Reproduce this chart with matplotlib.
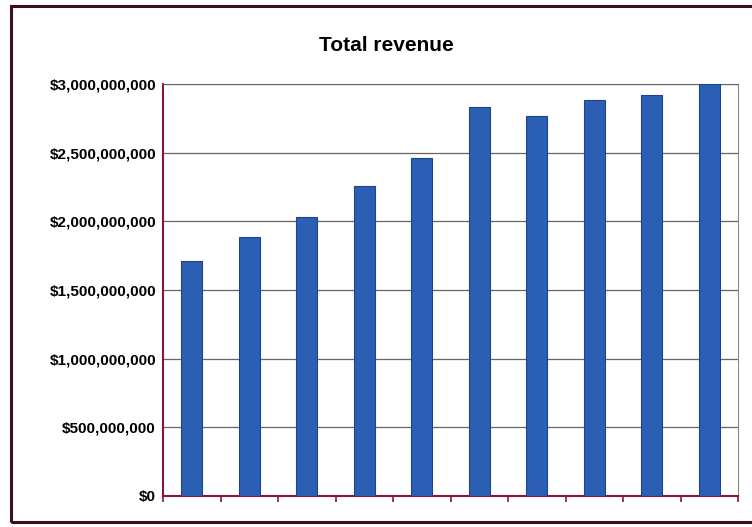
import matplotlib.pyplot as plt
from matplotlib.patches import Rectangle
from matplotlib.ticker import FuncFormatter

# Total revenue by year (10 bars)
years = list(range(1, 11))
revenue = [1.71e9, 1.886e9, 2.032e9, 2.257e9, 2.461e9,
           2.833e9, 2.767e9, 2.883e9, 2.920e9, 3.0e9]

plt.rcParams['font.family'] = ['Liberation Sans', 'DejaVu Sans']

fig = plt.figure(figsize=(7.52, 5.27), dpi=100)
ax = fig.add_axes([163 / 752, 1 - 496 / 527, (738 - 163) / 752, (496 - 84) / 527])

ax.bar(years, revenue, width=0.36, color='#2b5fb4', edgecolor='#1d4391', linewidth=0.8, zorder=3)

ax.set_xlim(0.5, 10.5)
ax.set_ylim(0, 3e9)
ax.set_yticks([i * 5e8 for i in range(7)])
ax.yaxis.set_major_formatter(FuncFormatter(lambda v, p: '${:,.0f}'.format(v)))
for lbl in ax.get_yticklabels():
    lbl.set_fontweight('bold')
    lbl.set_fontsize(11)
ax.tick_params(axis='y', length=0, pad=5)

# ticks between categories on x axis
ax.set_xticks([i + 0.5 for i in range(0, 11)])
ax.set_xticklabels([])
ax.tick_params(axis='x', length=4, width=1.2, color='#8a1538', direction='out')

ax.grid(axis='y', color='#666666', linewidth=0.9, zorder=0)
ax.spines['left'].set_color('#8a1538')
ax.spines['bottom'].set_color('#8a1538')
ax.spines['left'].set_linewidth(1.5)
ax.spines['bottom'].set_linewidth(1.5)
ax.spines['right'].set_color('#888888')
ax.spines['top'].set_color('#666666')

fig.text(386 / 752, 1 - 45 / 527, 'Total revenue', ha='center', va='center',
         fontsize=15, fontweight='bold')

# outer chart border (right edge lies past the image)
fig.patches.append(Rectangle((11 / 752, 5 / 527), 760 / 752, 516 / 527,
                             transform=fig.transFigure, fill=False,
                             edgecolor='#3a1020', linewidth=2.2))

fig.savefig('out.png', dpi=100)
